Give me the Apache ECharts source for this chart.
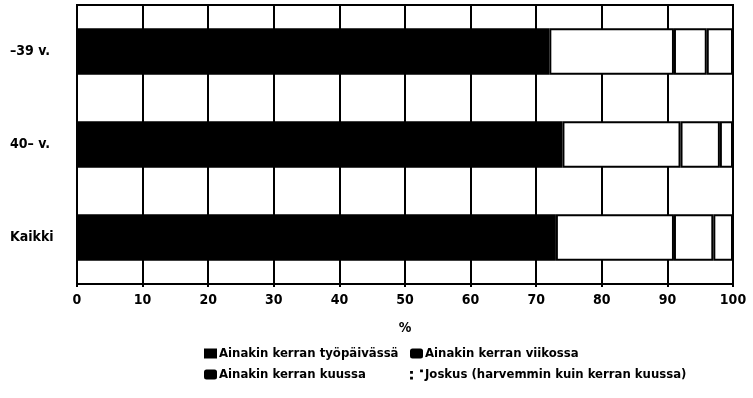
<!DOCTYPE html>
<html>
<head>
<meta charset="utf-8">
<script src="https://cdn.jsdelivr.net/npm/echarts@6/dist/echarts.min.js"></script>
<style>
html,body{margin:0;padding:0;background:#fff;}
#c{width:753px;height:398px;}
</style>
</head>
<body>
<div id="c"></div>
<script>
const categories = ['–39 v.', '40– v.', 'Kaikki'];
const seriesNames = ['Ainakin kerran työpäivässä', 'Ainakin kerran viikossa', 'Ainakin kerran kuussa', 'Joskus (harvemmin kuin kerran kuussa)'];
const tyopaivassa = [72, 74, 73];
const viikossa = [19, 18, 18];
const kuussa = [5, 6, 6];
const joskus = [4, 2, 3];
const xTicks = [0, 10, 20, 30, 40, 50, 60, 70, 80, 90, 100];

const FONT = "'Liberation Sans Narrow', 'DejaVu Sans Condensed', 'Liberation Sans', sans-serif";
const chart = echarts.init(document.getElementById('c'), null, {renderer: 'canvas'});

const catOrder = categories.slice().reverse();
const rev = a => a.slice().reverse();

const whiteStyle = {color: '#fff', borderColor: '#000', borderWidth: 2};
const legendText = {fontFamily: FONT, fontWeight: 'bold', fontSize: 13, color: '#000', padding: [0,0,0,-3]};

chart.setOption({
  animation: false,
  backgroundColor: '#fff',
  grid: {left: 77, right: 20, top: 5, bottom: 114, show: true, borderColor: '#000', borderWidth: 2, backgroundColor: 'transparent'},
  xAxis: {
    type: 'value', min: 0, max: 100, interval: 10,
    name: '%', nameLocation: 'middle', nameGap: 37,
    nameTextStyle: {fontFamily: FONT, fontWeight: 'bold', fontSize: 14, color: '#000'},
    axisLine: {show: true, lineStyle: {color: '#000', width: 2}},
    axisTick: {show: true, length: 3, lineStyle: {color: '#000', width: 2}},
    axisLabel: {fontFamily: FONT, fontWeight: 'bold', fontSize: 14, color: '#000', margin: 9,
      formatter: v => xTicks.includes(v) ? String(v) : ''},
    splitLine: {show: true, lineStyle: {color: '#000', width: 2}}
  },
  yAxis: {
    type: 'category', data: catOrder,
    axisLine: {show: false}, axisTick: {show: false},
    splitLine: {show: false},
    axisLabel: {fontFamily: FONT, fontWeight: 'bold', fontSize: 14, color: '#000', align: 'left', margin: 67}
  },
  legend: [
    {orient: 'vertical', left: 199, top: 342, itemWidth: 13, itemHeight: 10, itemGap: 8,
      textStyle: legendText,
      data: [
        {name: seriesNames[0], icon: 'rect', itemStyle: {color: '#000', borderWidth: 0}},
        {name: seriesNames[2], icon: 'roundRect', itemStyle: {color: '#000', borderWidth: 0}}
      ]},
    {orient: 'vertical', left: 405, top: 342, itemWidth: 13, itemHeight: 10, itemGap: 8,
      textStyle: legendText,
      data: [
        {name: seriesNames[1], icon: 'roundRect', itemStyle: {color: '#000', borderWidth: 0}},
        {name: seriesNames[3], icon: 'path://M2,6h2v2h-2zM2,10h2v2h-2zM9,5h2v2h-2z', itemStyle: {color: '#000', borderWidth: 0}}
      ]}
  ],
  series: [
    {name: seriesNames[0], type: 'bar', stack: 's', barWidth: '50%', data: rev(tyopaivassa), itemStyle: {color: '#000', borderWidth: 0}},
    {name: seriesNames[1], type: 'bar', stack: 's', data: rev(viikossa), itemStyle: whiteStyle},
    {name: seriesNames[2], type: 'bar', stack: 's', data: rev(kuussa), itemStyle: whiteStyle},
    {name: seriesNames[3], type: 'bar', stack: 's', data: rev(joskus), itemStyle: whiteStyle}
  ]
});
</script>
</body>
</html>
